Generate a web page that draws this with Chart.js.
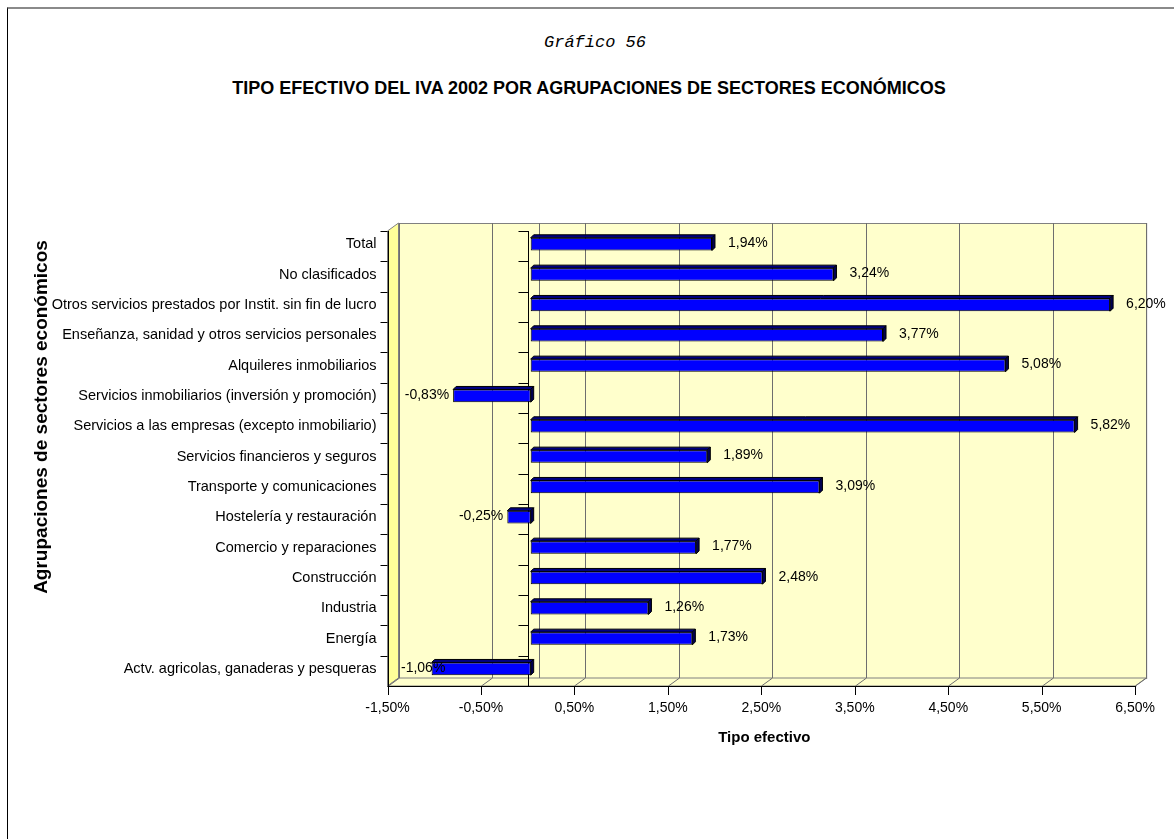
<!DOCTYPE html>
<html>
<head>
<meta charset="utf-8">
<script src="https://cdn.jsdelivr.net/npm/chart.js@4"></script>
<style>
  html, body { margin: 0; padding: 0; background: #fff; }
  #wrap { position: relative; width: 1174px; height: 839px; overflow: hidden; }
  #marco { position: absolute; left: 7px; top: 7px; right: -10px; bottom: -10px;
           border-left: 1px solid #000; border-top: 2px solid #8a8a8a; }
  .tit { position: absolute; left: 0; text-align: center; color: #000; white-space: nowrap; }
  #t1 { top: 33px; width: 1190px; font: italic 17px "Liberation Mono", "DejaVu Sans Mono", monospace; }
  #t2 { top: 78px; width: 1178px; font: bold 18px "Liberation Sans", Arial, sans-serif; }
  canvas { position: absolute; left: 0; top: 0; }
</style>
</head>
<body>
<div id="wrap">
  <div id="marco"></div>
  <div class="tit" id="t1">Gráfico 56</div>
  <div class="tit" id="t2">TIPO EFECTIVO DEL IVA 2002 POR AGRUPACIONES DE SECTORES ECONÓMICOS</div>
  <canvas id="grafico" width="1174" height="839"></canvas>
</div>
<script>
const categorias = [
  "Total",
  "No clasificados",
  "Otros servicios prestados por Instit. sin fin de lucro",
  "Enseñanza, sanidad y otros servicios personales",
  "Alquileres inmobiliarios",
  "Servicios inmobiliarios (inversión y promoción)",
  "Servicios a las empresas (excepto inmobiliario)",
  "Servicios financieros y seguros",
  "Transporte y comunicaciones",
  "Hostelería y restauración",
  "Comercio y reparaciones",
  "Construcción",
  "Industria",
  "Energía",
  "Actv. agricolas, ganaderas y pesqueras"
];
const tipoEfectivo = [1.94, 3.24, 6.20, 3.77, 5.08, -0.83, 5.82, 1.89, 3.09, -0.25, 1.77, 2.48, 1.26, 1.73, -1.06];
const ticksX = [-1.5, -0.5, 0.5, 1.5, 2.5, 3.5, 4.5, 5.5, 6.5];

const pct = (v) => v.toFixed(2).replace(".", ",") + "%";
const FUENTE = '"Liberation Sans", Arial, sans-serif';

// desplazamientos de la perspectiva: plano frontal y pared de fondo
const FRENTE = { dx: -3, dy: 2 };
const FONDO = { dx: 8, dy: -6 };

const paredes = {
  id: "paredes",
  beforeDatasetsDraw(chart) {
    const { ctx, chartArea: a, scales } = chart;
    const x = scales.x;
    const fl = a.left + FRENTE.dx, fb = a.bottom + FRENTE.dy, ft = a.top + FRENTE.dy, fr = a.right + FRENTE.dx;
    const bl = a.left + FONDO.dx, bb = a.bottom + FONDO.dy, bt = a.top + FONDO.dy, br = a.right + FONDO.dx;
    ctx.save();
    ctx.lineWidth = 1;

    // pared de fondo
    ctx.fillStyle = "#FFFFCC";
    ctx.strokeStyle = "#808080";
    ctx.fillRect(bl, bt, br - bl, bb - bt);
    ctx.strokeRect(bl + 0.5, bt + 0.5, br - bl, bb - bt);

    // pared lateral izquierda
    ctx.fillStyle = "#FFFF99";
    ctx.beginPath();
    ctx.moveTo(fl, ft); ctx.lineTo(bl, bt); ctx.lineTo(bl, bb); ctx.lineTo(fl, fb); ctx.closePath();
    ctx.fill(); ctx.stroke();

    // suelo
    ctx.fillStyle = "#FFFFCC";
    ctx.beginPath();
    ctx.moveTo(fl, fb); ctx.lineTo(bl, bb); ctx.lineTo(br, bb); ctx.lineTo(fr, fb); ctx.closePath();
    ctx.fill(); ctx.stroke();

    // rejilla vertical en el fondo y en el suelo
    ctx.strokeStyle = "#6e6e6e";
    ticksX.concat([0]).forEach((v) => {
      const px = Math.round(x.getPixelForValue(v)) + 0.5;
      ctx.beginPath();
      ctx.moveTo(px + FONDO.dx, bt);
      ctx.lineTo(px + FONDO.dx, bb);
      if (v !== 0) ctx.lineTo(px + FRENTE.dx, fb);
      ctx.stroke();
    });

    // eje de valores (frontal) con marcas
    ctx.strokeStyle = "#000";
    ctx.beginPath();
    ctx.moveTo(fl, fb + 0.5); ctx.lineTo(fr + 1, fb + 0.5);
    ctx.moveTo(Math.round(fl) + 0.5, ft); ctx.lineTo(Math.round(fl) + 0.5, fb);
    ticksX.forEach((v) => {
      const px = Math.round(x.getPixelForValue(v) + FRENTE.dx) + 0.5;
      ctx.moveTo(px, fb); ctx.lineTo(px, fb + 9);
    });
    ctx.stroke();

    // eje de categorías en el cero y marcas entre categorías
    const z = Math.round(x.getPixelForValue(0) + FRENTE.dx) + 0.5;
    ctx.beginPath();
    ctx.moveTo(z, ft); ctx.lineTo(z, fb);
    for (let i = 0; i <= categorias.length; i++) {
      const py = Math.round(a.top + (i * (a.bottom - a.top)) / categorias.length + FRENTE.dy) + 0.5;
      ctx.moveTo(z - 10, py); ctx.lineTo(z, py);
      if (i < categorias.length) { ctx.moveTo(fl - 7, py); ctx.lineTo(fl, py); }
    }
    ctx.stroke();

    // título del eje de categorías
    ctx.fillStyle = "#000";
    ctx.font = "bold 19px " + FUENTE;
    ctx.textAlign = "center";
    ctx.textBaseline = "middle";
    ctx.translate(42, 417);
    ctx.rotate(-Math.PI / 2);
    ctx.fillText("Agrupaciones de sectores económicos", 0, 0);
    ctx.restore();
  }
};

const barras3d = {
  id: "barras3d",
  afterDatasetsDraw(chart) {
    const { ctx } = chart;
    const meta = chart.getDatasetMeta(0);
    const d = 3;
    ctx.save();
    ctx.lineWidth = 1;
    ctx.strokeStyle = "#000";
    meta.data.forEach((bar, i) => {
      const x1 = Math.min(bar.x, bar.base), x2 = Math.max(bar.x, bar.base);
      const top = bar.y - bar.height / 2, bottom = bar.y + bar.height / 2;
      // cara superior
      ctx.fillStyle = "#000080";
      ctx.beginPath();
      ctx.moveTo(x1, top); ctx.lineTo(x1 + d, top - d); ctx.lineTo(x2 + d, top - d); ctx.lineTo(x2, top); ctx.closePath();
      ctx.fill(); ctx.stroke();
      // cara lateral
      ctx.fillStyle = "#000050";
      ctx.beginPath();
      ctx.moveTo(x2, top); ctx.lineTo(x2 + d, top - d); ctx.lineTo(x2 + d, bottom - d); ctx.lineTo(x2, bottom); ctx.closePath();
      ctx.fill(); ctx.stroke();

      // etiqueta de valor
      const v = tipoEfectivo[i];
      const txt = pct(v);
      ctx.fillStyle = "#000";
      ctx.font = "14px " + FUENTE;
      ctx.textBaseline = "middle";
      if (v >= 0) {
        ctx.textAlign = "left";
        ctx.fillText(txt, x2 + 16, bar.y - 1);
      } else {
        const w = ctx.measureText(txt).width;
        const right = Math.max(x1 - 4, 401 + w);
        ctx.textAlign = "right";
        ctx.fillText(txt, right, bar.y - 1);
      }
    });
    ctx.restore();
  }
};

new Chart(document.getElementById("grafico"), {
  type: "bar",
  data: {
    labels: categorias,
    datasets: [
      {
        label: "Tipo efectivo",
        data: tipoEfectivo,
        backgroundColor: "#0000FF",
        borderColor: "#000",
        borderWidth: 1,
        borderSkipped: false,
        categoryPercentage: 1,
        barPercentage: 0.42
      }
    ]
  },
  options: {
    indexAxis: "y",
    responsive: false,
    animation: false,
    layout: { padding: { left: 30, right: 32, top: 229, bottom: 88 } },
    plugins: { legend: { display: false }, tooltip: { enabled: false } },
    scales: {
      x: {
        min: -1.5,
        max: 6.5,
        afterBuildTicks: (s) => { s.ticks = ticksX.map((v) => ({ value: v })); },
        afterFit: (s) => { s.height = 67; },
        grid: { display: true, drawOnChartArea: false, drawTicks: false, color: "rgba(0,0,0,0)" },
        border: { display: false },
        ticks: { padding: 16, labelOffset: -3, color: "#000", font: { family: FUENTE, size: 14 }, callback: (v) => pct(v) },
        title: { display: true, text: "Tipo efectivo", color: "#000", font: { family: FUENTE, size: 15, weight: "bold" } }
      },
      y: {
        afterFit: (s) => { s.width = 360.5; },
        grid: { display: true, drawOnChartArea: false, drawTicks: false, color: "rgba(0,0,0,0)" },
        border: { display: false },
        ticks: { padding: 14, color: "#000", font: { family: FUENTE, size: 14.5 }, autoSkip: false }
      }
    }
  },
  plugins: [paredes, barras3d]
});
</script>
</body>
</html>
